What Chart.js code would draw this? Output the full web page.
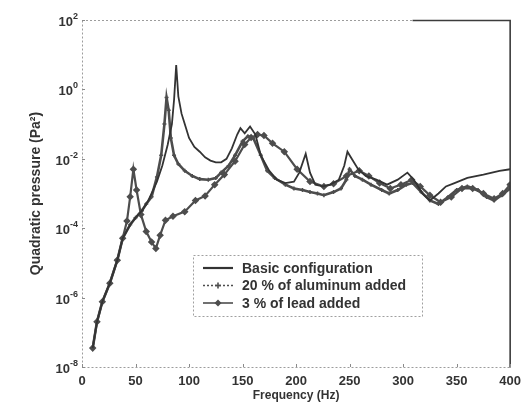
<!DOCTYPE html>
<html>
<head>
<meta charset="utf-8">
<script src="https://cdn.jsdelivr.net/npm/chart.js@4.4.1/dist/chart.umd.min.js"></script>
<style>
  html, body { margin: 0; padding: 0; background: #fff; }
</style>
</head>
<body>
<canvas id="pressureChart" width="528" height="410"></canvas>
<script>
// values (Pa^2 versus Hz)
const freqBasic = [10, 14, 19, 26, 33, 38, 45, 50, 56, 62, 70, 75, 80, 84, 86, 88, 90, 93, 96, 100,
  105, 110, 115, 120, 125, 130, 135, 140, 145, 148, 152, 157, 162, 167, 175, 182, 190, 198, 203, 209,
  213, 218, 225, 232, 240, 245, 248, 252, 258, 265, 275, 285, 295, 304, 310, 318, 325, 333, 340, 348,
  360, 375, 390, 400];
const pBasic = [3.5e-8, 2.0e-7, 7.6e-7, 2.6e-6, 1.2e-5, 5.1e-5, 1.26e-4, 2.0e-4, 3.2e-4, 6.3e-4,
  2.2e-3, 6.3e-3, 2.5e-2, 1.0e-1, 0.5, 5.0, 0.63, 0.2, 0.1, 0.04,
  0.022, 0.016, 0.011, 8.9e-3, 7.9e-3, 7.9e-3, 0.01, 0.02, 0.05, 0.076, 0.054, 0.085, 0.05, 0.0126,
  4.5e-3, 2.5e-3, 2.0e-3, 2.2e-3, 4.0e-3, 0.014,
  4.0e-3, 1.8e-3, 1.6e-3, 1.8e-3, 2.5e-3, 6.3e-3, 0.016, 0.01, 5.0e-3, 3.2e-3, 2.5e-3, 1.8e-3,
  2.5e-3, 4.0e-3, 2.5e-3, 1.0e-3, 6.3e-4, 1.0e-3, 1.6e-3, 2.0e-3,
  2.8e-3, 3.5e-3, 4.5e-3, 5.0e-3];

const freqAlu = [10, 14, 19, 26, 33, 38, 45, 50, 56, 60, 65, 70, 74, 77, 79, 81, 83, 86, 90, 96,
  103, 110, 118, 125, 130, 137, 143, 150, 155, 160, 167, 173, 180, 190, 198, 206, 213, 220, 226, 235,
  242, 247, 250, 255, 262, 270, 280, 287, 295, 303, 309, 317, 325, 333, 342, 350, 360, 370, 378, 385,
  392, 400];
const pAlu = [3.5e-8, 2.0e-7, 7.6e-7, 2.6e-6, 1.2e-5, 5.1e-5, 1.26e-4, 2.0e-4, 3.2e-4, 5.0e-4,
  8.0e-4, 3.0e-3, 0.0126, 0.1, 0.58, 0.25, 0.04, 0.0126, 7.1e-3, 4.5e-3,
  3.2e-3, 2.6e-3, 2.5e-3, 2.8e-3, 4.0e-3, 6.3e-3, 0.0126, 0.032, 0.045, 0.04, 0.0126, 4.5e-3, 2.8e-3,
  1.8e-3, 1.4e-3, 1.26e-3, 1.1e-3, 1.0e-3, 8.9e-4, 1.1e-3,
  1.4e-3, 2.5e-3, 5.0e-3, 3.2e-3, 2.5e-3, 1.8e-3, 1.26e-3, 1.0e-3, 1.26e-3, 1.8e-3, 2.0e-3, 1.1e-3,
  6.3e-4, 5.0e-4, 7.9e-4, 1.26e-3, 1.6e-3, 1.26e-3, 7.9e-4, 6.3e-4,
  8.9e-4, 1.4e-3];

const freqLead = [10, 14, 19, 26, 33, 38, 42, 45, 48, 51, 55, 60, 65, 69, 73, 78, 85, 96, 106, 115,
  124, 133, 143, 152, 158, 164, 170, 178, 189, 201, 213, 226, 235, 247, 259, 268, 278, 288, 298, 308,
  316, 325, 335, 345, 355, 365, 375, 385, 393, 400];
const pLead = [3.5e-8, 2.0e-7, 7.6e-7, 2.6e-6, 1.2e-5, 5.1e-5, 1.6e-4, 8.0e-4, 5.0e-3, 1.26e-3,
  2.5e-4, 8.0e-5, 4.0e-5, 2.6e-5, 6.3e-5, 1.7e-4, 2.2e-4, 3.0e-4, 6.3e-4, 8.5e-4,
  1.8e-3, 3.5e-3, 8.5e-3, 0.026, 0.041, 0.05, 0.047, 0.028, 0.016, 5.0e-3,
  2.2e-3, 1.6e-3, 1.9e-3, 3.2e-3, 4.5e-3, 3.2e-3, 2.0e-3, 1.4e-3, 1.8e-3, 2.5e-3,
  1.6e-3, 8.9e-4, 5.6e-4, 7.9e-4, 1.4e-3, 1.4e-3, 1.0e-3, 7.1e-4, 1.0e-3, 1.8e-3];

const seriesNames = ['Basic configuration', '20 % of aluminum added', '3 % of lead added'];
const yTickValues = [1e-8, 1e-6, 1e-4, 1e-2, 1, 1e2];
const yTickExponents = ['-8', '-6', '-4', '-2', '0', '2'];
const xTickStep = 50;

const toPoints = (xs, ys) => xs.map((x, i) => ({ x: x, y: ys[i] }));

const inkDark = '#333333';
const inkMid = '#4d4d4d';
const fontFamily = '"Liberation Sans", Arial, "DejaVu Sans", sans-serif';

// frame in the scanned look: light dotted left/bottom, solid dark right edge
const framePlugin = {
  id: 'frame',
  afterDraw(chart) {
    const { ctx, chartArea: a, scales } = chart;
    const split = a.left + (a.right - a.left) * 0.772;
    ctx.save();
    ctx.strokeStyle = '#9c9c9c';
    ctx.lineWidth = 1;
    ctx.setLineDash([2, 2]);
    ctx.beginPath();
    ctx.moveTo(a.left + 0.5, a.top + 0.5);
    ctx.lineTo(a.left + 0.5, a.bottom + 0.5);
    ctx.lineTo(a.right, a.bottom + 0.5);
    ctx.moveTo(a.left, a.top + 0.5);
    ctx.lineTo(split, a.top + 0.5);
    ctx.stroke();
    ctx.setLineDash([]);
    ctx.strokeStyle = '#3c3c3c';
    ctx.lineWidth = 1.6;
    ctx.beginPath();
    ctx.moveTo(split, a.top + 0.5);
    ctx.lineTo(a.right, a.top + 0.5);
    ctx.lineTo(a.right, a.bottom + 0.5);
    ctx.stroke();

    // small inward tick marks
    ctx.strokeStyle = '#8a8a8a';
    ctx.lineWidth = 1;
    ctx.beginPath();
    scales.x.ticks.forEach(t => {
      const px = Math.round(scales.x.getPixelForValue(t.value)) + 0.5;
      ctx.moveTo(px, a.bottom);
      ctx.lineTo(px, a.bottom - 3);
    });
    scales.y.ticks.forEach(t => {
      const py = Math.round(scales.y.getPixelForValue(t.value)) + 0.5;
      ctx.moveTo(a.left, py);
      ctx.lineTo(a.left + 3, py);
    });
    ctx.stroke();

    // power-of-ten labels with a real raised exponent
    ctx.fillStyle = inkDark;
    ctx.textBaseline = 'alphabetic';
    scales.y.ticks.forEach((t, i) => {
      const py = scales.y.getPixelForValue(t.value);
      const exp = yTickExponents[i];
      ctx.font = 'bold 9px ' + fontFamily;
      const expW = ctx.measureText(exp).width;
      const right = a.left - 4;
      ctx.textAlign = 'left';
      ctx.fillText(exp, right - expW, py - 1);
      ctx.font = 'bold 13px ' + fontFamily;
      ctx.textAlign = 'right';
      ctx.fillText('10', right - expW, py + 6);
    });
    ctx.restore();
  }
};

// boxed legend sitting inside the plot, lower middle
const boxLegendPlugin = {
  id: 'boxLegend',
  afterDraw(chart) {
    const { ctx, chartArea: a } = chart;
    const left = a.left + 111;
    const top = a.top + 235;
    const w = 229, h = 61;
    ctx.save();
    ctx.fillStyle = '#ffffff';
    ctx.fillRect(left, top, w, h);
    ctx.strokeStyle = '#a0a0a0';
    ctx.lineWidth = 1;
    ctx.setLineDash([2, 2]);
    ctx.strokeRect(left + 0.5, top + 0.5, w, h);
    ctx.setLineDash([]);

    ctx.font = 'bold 14px ' + fontFamily;
    ctx.textBaseline = 'middle';
    ctx.textAlign = 'left';
    chart.data.datasets.forEach((ds, i) => {
      const y = top + 13 + i * 17.5;
      const x0 = left + 10, x1 = left + 40;
      ctx.strokeStyle = ds.borderColor;
      ctx.lineWidth = i === 0 ? 2.2 : 1.6;
      ctx.setLineDash(i === 1 ? [2, 2] : []);
      ctx.beginPath();
      ctx.moveTo(x0, y);
      ctx.lineTo(x1, y);
      ctx.stroke();
      ctx.setLineDash([]);
      if (i === 1) {
        ctx.beginPath();
        ctx.moveTo((x0 + x1) / 2 - 3, y);
        ctx.lineTo((x0 + x1) / 2 + 3, y);
        ctx.moveTo((x0 + x1) / 2, y - 3);
        ctx.lineTo((x0 + x1) / 2, y + 3);
        ctx.stroke();
      } else if (i === 2) {
        const cx = (x0 + x1) / 2;
        ctx.fillStyle = ds.borderColor;
        ctx.beginPath();
        ctx.moveTo(cx, y - 3.5);
        ctx.lineTo(cx + 3.5, y);
        ctx.lineTo(cx, y + 3.5);
        ctx.lineTo(cx - 3.5, y);
        ctx.closePath();
        ctx.fill();
      }
      ctx.fillStyle = inkDark;
      ctx.fillText(ds.label, left + 49, y + 1);
    });
    ctx.restore();
  }
};

const ctx = document.getElementById('pressureChart').getContext('2d');
new Chart(ctx, {
  type: 'line',
  data: {
    datasets: [
      {
        label: seriesNames[0],
        data: toPoints(freqBasic, pBasic),
        borderColor: inkDark,
        borderWidth: 1.8,
        pointRadius: 0,
        tension: 0
      },
      {
        label: seriesNames[1],
        data: toPoints(freqAlu, pAlu),
        borderColor: inkMid,
        borderWidth: 2.6,
        pointRadius: 2,
        pointStyle: 'cross',
        pointBorderColor: inkMid,
        pointBorderWidth: 1.5,
        tension: 0
      },
      {
        label: seriesNames[2],
        data: toPoints(freqLead, pLead),
        borderColor: inkMid,
        borderWidth: 2.2,
        pointRadius: 2.2,
        pointStyle: 'rectRot',
        pointBackgroundColor: inkMid,
        pointBorderColor: inkMid,
        tension: 0
      }
    ]
  },
  options: {
    responsive: false,
    animation: false,
    layout: { padding: { top: 20, right: 12, left: 0, bottom: 0 } },
    plugins: {
      legend: { display: false },
      tooltip: { enabled: false }
    },
    scales: {
      x: {
        type: 'linear',
        min: 0,
        max: 400,
        afterFit: (scale) => { scale.height = 43; },
        grid: { display: false, drawTicks: false },
        border: { display: false },
        ticks: {
          stepSize: xTickStep,
          padding: 7,
          color: inkDark,
          font: { family: fontFamily, size: 13, weight: 'bold' }
        },
        title: {
          display: true,
          text: 'Frequency (Hz)',
          color: inkDark,
          padding: { top: 0, bottom: 7 },
          font: { family: fontFamily, size: 12, weight: 'bold' }
        }
      },
      y: {
        type: 'logarithmic',
        min: 1e-8,
        max: 1e2,
        afterFit: (scale) => { scale.width = 82; },
        afterBuildTicks: (scale) => {
          scale.ticks = yTickValues.map(v => ({ value: v }));
        },
        grid: { display: false, drawTicks: false },
        border: { display: false },
        ticks: { display: false },
        title: {
          display: true,
          text: 'Quadratic pressure (Pa\u00B2)',
          color: inkDark,
          padding: { top: 28, bottom: 0 },
          font: { family: fontFamily, size: 14, weight: 'bold' }
        }
      }
    }
  },
  plugins: [framePlugin, boxLegendPlugin]
});
</script>
</body>
</html>
